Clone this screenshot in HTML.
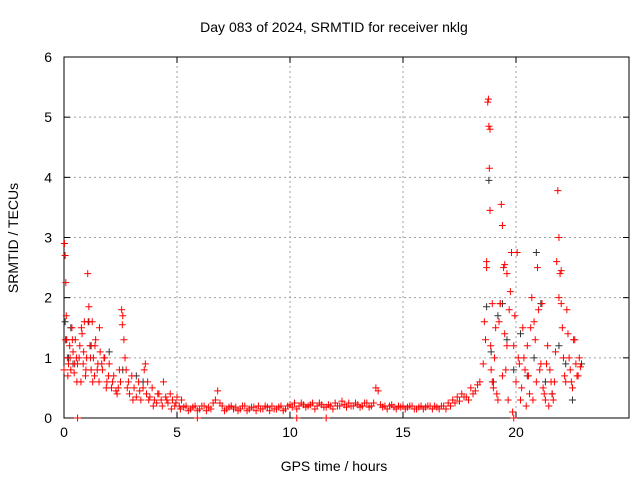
<!DOCTYPE html>
<html><head><meta charset="utf-8"><style>
body{margin:0;background:#fff;width:640px;height:480px;overflow:hidden}
svg text{font-family:"Liberation Sans",sans-serif;font-size:14px;fill:#000}
</style></head><body>
<svg id="chart" width="640" height="480" viewBox="0 0 640 480" xmlns="http://www.w3.org/2000/svg">
<text x="334" y="32" text-anchor="middle">Day 083 of 2024, SRMTID for receiver nklg</text>
<text x="334" y="471" text-anchor="middle">GPS time / hours</text>
<text transform="translate(18,238) rotate(-90)" text-anchor="middle">SRMTID / TECUs</text>
<g id="grid"></g>
<g id="axes"></g>
<g id="marks"></g>
</svg>
<script>
const xTicks=[0,5,10,15,20];
const yTicks=[0,1,2,3,4,5,6];
const earlyX=[0,0.02,0.05,0.08,0.1,0.12,0.15,0.2,0.25,0.3,0.35,0.4,0.45,0.5,0.55,0.6,0.7,0.75,0.8,0.85,0.9,0.95,1.0,1.05,1.1,1.15,1.2,1.25,1.3,1.35,1.4,1.5,1.55,1.6,1.7,1.8,1.9,2.0,2.1,2.2,2.3,2.4,2.5,2.55,2.6,2.65,2.7,2.75,2.8,2.9,3.0,3.1,3.2,3.3,3.4,3.5,3.6,3.7,3.8,3.9,4.0,4.1,4.2,4.3,4.4,4.5,4.6,4.7,4.8,4.9,5.0,5.1,5.2];
const earlyY=[0.8,2.9,2.7,2.25,1.7,1.3,1.0,0.9,1.2,0.8,1.5,1.1,0.75,1.3,1.0,0.9,1.2,0.6,1.4,0.9,1.6,0.7,1.0,2.4,1.85,1.2,0.8,1.6,1.0,0.7,1.3,0.9,0.6,1.1,0.8,1.0,0.6,0.9,0.5,0.7,0.45,0.5,0.6,1.8,1.7,1.3,1.0,0.8,0.5,0.4,0.7,0.5,0.35,0.6,0.3,0.5,0.9,0.6,0.35,0.5,0.3,0.25,0.4,0.3,0.6,0.35,0.25,0.4,0.3,0.2,0.35,0.2,0.3];
const earlyX2=[0.07,0.17,0.27,0.37,0.47,0.57,0.67,0.77,0.87,0.97,1.07,1.17,1.27,1.37,1.47,1.57,1.67,1.77,1.87,1.97,2.15,2.35,2.45,2.58,2.85,3.05,3.35,3.55,3.65,3.75,3.95,4.15,4.35,4.55,4.75,4.95,5.15,5.3];
const earlyY2=[1.3,0.7,1.0,1.3,0.9,0.6,1.0,1.5,1.1,0.8,1.6,1.0,0.6,1.2,0.8,1.5,0.9,1.0,0.5,0.7,0.6,0.4,0.8,1.55,0.6,0.3,0.45,0.8,0.4,0.3,0.2,0.4,0.2,0.3,0.15,0.25,0.15,0.18];
const quietX=[5.4,5.6,5.8,6.0,6.2,6.4,6.6,6.8,7.0,7.2,7.4,7.6,7.8,8.0,8.2,8.4,8.6,8.8,9.0,9.2,9.4,9.6,9.8,10.0,10.2,10.4,10.6,10.8,11.0,11.2,11.4,11.6,11.8,12.0,12.2,12.4,12.6,12.8,13.0,13.2,13.4,13.6,13.8,14.0,14.2,14.4,14.6,14.8,15.0,15.2,15.4,15.6,15.8,16.0,16.2,16.4,16.6,16.8,17.0,17.2,17.4,17.6,17.8,18.0,18.2,18.4];
const quietY=[0.2,0.15,0.2,0.15,0.2,0.18,0.25,0.45,0.2,0.15,0.2,0.18,0.15,0.2,0.15,0.18,0.2,0.15,0.18,0.2,0.15,0.2,0.15,0.22,0.25,0.2,0.22,0.2,0.25,0.2,0.22,0.18,0.2,0.25,0.2,0.22,0.25,0.2,0.22,0.2,0.25,0.2,0.5,0.22,0.2,0.2,0.18,0.2,0.2,0.18,0.2,0.15,0.2,0.18,0.2,0.2,0.15,0.2,0.25,0.3,0.35,0.4,0.35,0.5,0.45,0.6];
const quietX2=[5.5,5.7,5.9,6.1,6.3,6.5,6.7,6.9,7.1,7.3,7.5,7.7,7.9,8.1,8.3,8.5,8.7,8.9,9.1,9.3,9.5,9.7,9.9,10.1,10.3,10.5,10.7,10.9,11.1,11.3,11.5,11.7,11.9,12.1,12.3,12.5,12.7,12.9,13.1,13.3,13.5,13.7,13.9,14.1,14.3,14.5,14.7,14.9,15.1,15.3,15.5,15.7,15.9,16.1,16.3,16.5,16.7,16.9,17.1,17.3,17.5,17.7,17.9,18.1,18.3];
const quietY2=[0.12,0.18,0.12,0.2,0.12,0.15,0.3,0.25,0.12,0.18,0.15,0.12,0.2,0.12,0.18,0.12,0.15,0.2,0.12,0.15,0.18,0.12,0.2,0.18,0.15,0.25,0.18,0.22,0.15,0.25,0.18,0.22,0.15,0.2,0.28,0.18,0.2,0.25,0.18,0.25,0.18,0.25,0.45,0.18,0.15,0.22,0.15,0.18,0.15,0.2,0.15,0.18,0.15,0.2,0.15,0.18,0.2,0.15,0.2,0.25,0.28,0.35,0.3,0.4,0.55];
const zeroX=[0.6,5.9,10.3,11.6];
const zeroY=[0,0,0,0];
const stormX=[18.6,18.7,18.75,18.8,18.82,18.85,18.88,18.9,18.95,19.0,19.1,19.2,19.3,19.35,19.4,19.45,19.5,19.55,19.6,19.7,19.8,19.85,19.9,20.0,20.1,20.2,20.3,20.4,20.5,20.6,20.7,20.8,20.9,21.0,21.1,21.2,21.3,21.4,21.5,21.6,21.7,21.8,21.85,21.9,21.95,22.0,22.05,22.1,22.2,22.3,22.4,22.5,22.6,22.7,22.8];
const stormY=[1.6,2.6,5.25,4.85,4.15,3.45,1.2,0.8,1.9,0.5,1.5,0.3,1.9,3.55,3.2,2.5,1.4,0.8,2.4,1.8,2.75,0.1,1.2,0.6,1.0,0.3,1.5,0.8,1.2,0.4,2.0,1.6,0.6,1.8,0.9,0.5,0.3,1.2,0.8,0.4,0.6,2.6,3.78,3.0,2.4,1.9,1.5,1.0,0.6,1.4,0.8,0.5,1.3,0.7,1.0];
const stormX2=[18.55,18.65,18.7,18.78,18.85,18.95,19.05,19.15,19.25,19.3,19.4,19.5,19.6,19.65,19.75,19.9,19.95,20.05,20.15,20.25,20.35,20.45,20.55,20.65,20.75,20.85,20.95,21.05,21.15,21.25,21.35,21.45,21.55,21.65,21.75,21.9,22.0,22.15,22.25,22.35,22.45,22.55,22.65,22.75,22.85];
const stormY2=[0.9,1.3,2.5,5.3,4.8,0.6,1.0,0.4,1.6,1.9,0.7,2.55,1.2,0.3,2.1,0.0,1.7,2.75,0.9,0.5,1.0,0.2,0.7,1.5,0.3,1.3,2.5,0.8,1.9,0.4,0.9,0.2,0.6,0.3,1.1,2.0,2.45,0.7,1.8,1.0,0.6,1.3,0.9,0.7,0.85];
const blackX=[0.05,0.1,0.2,0.3,0.4,1.1,1.2,2.0,2.6,3.2,3.5,18.7,18.8,18.9,19.0,19.2,19.4,19.6,19.9,20.2,20.5,20.8,20.9,21.1,21.3,21.6,21.9,22.2,22.5,22.9];
const blackY=[1.6,1.3,1.0,1.5,0.9,1.6,1.2,1.1,0.8,0.7,0.6,1.85,3.95,1.1,0.6,1.7,1.9,1.3,0.8,1.4,0.7,1.0,2.75,1.9,0.6,0.4,1.2,0.9,0.3,0.9];
const X0=64,X1=629,Y0=418,Y1=57;
const xs=v=>X0+v*(X1-X0)/25, ys=v=>Y0-v*(Y0-Y1)/6;
const NS="http://www.w3.org/2000/svg";
function mk(tag,attrs,parent){const e=document.createElementNS(NS,tag);for(const k in attrs)e.setAttribute(k,attrs[k]);parent.appendChild(e);return e;}
const grid=document.getElementById('grid'),axes=document.getElementById('axes'),marks=document.getElementById('marks');
xTicks.forEach(t=>{const x=xs(t);
 if(t>0){const g=mk('line',{x1:x,y1:Y0,x2:x,y2:Y1,stroke:'#a0a0a0','stroke-dasharray':'2,3'},grid);}
 mk('line',{x1:x,y1:Y0,x2:x,y2:Y0-6,stroke:'#000'},axes);mk('line',{x1:x,y1:Y1,x2:x,y2:Y1+6,stroke:'#000'},axes);
 const l=mk('text',{x:x,y:Y0+19,'text-anchor':'middle'},axes);l.textContent=t;
 });
yTicks.forEach(t=>{const y=ys(t);
 if(t>0&&t<6){const g=mk('line',{x1:X0,y1:y,x2:X1,y2:y,stroke:'#a0a0a0','stroke-dasharray':'2,3'},grid);}
 mk('line',{x1:X0,y1:y,x2:X0+6,y2:y,stroke:'#000'},axes);mk('line',{x1:X1,y1:y,x2:X1-6,y2:y,stroke:'#000'},axes);
 const l=mk('text',{x:X0-12,y:y+5,'text-anchor':'end'},axes);l.textContent=t;
 });
const fr=mk('rect',{x:X0,y:Y1,width:X1-X0,height:Y0-Y1,fill:'none',stroke:'#000'},axes);

function plus(x,y,c,name){const p=mk('path',{d:`M${x-3.5},${y}h7M${x},${y-3.5}v7`,stroke:c,'stroke-width':1,fill:'none'},marks);
 
 }
blackX.forEach((v,i)=>plus(xs(v),ys(blackY[i]),'#333','black-point'));
[[earlyX,earlyY],[earlyX2,earlyY2],[quietX,quietY],[quietX2,quietY2],[zeroX,zeroY],[stormX,stormY],[stormX2,stormY2]].forEach(([X,Y])=>{
 X.forEach((v,i)=>plus(xs(v),ys(Y[i]),'#ff0000','red-point'));});
</script>
</body></html>
